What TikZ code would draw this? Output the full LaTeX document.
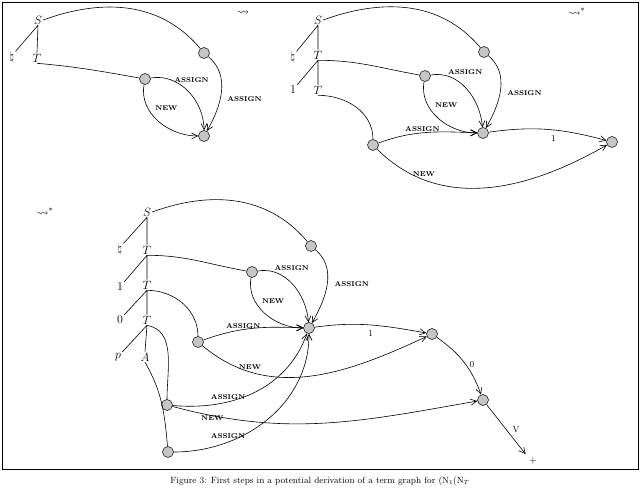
\documentclass[tikz,border=0pt]{standalone}
\usepackage{amssymb}
\usetikzlibrary{arrows.meta}
\begin{document}
\begin{tikzpicture}[x=1pt,y=-1pt,
  vtx/.style={circle,draw,fill=gray!45,inner sep=0pt,minimum size=11pt,line width=0.5pt},
  sym/.style={inner sep=1pt,font=\large},
  lab/.style={font=\fontsize{7}{8}\selectfont\bfseries,inner sep=1pt},
  e/.style={line width=0.6pt},
  a/.style={line width=0.6pt,-{Straight Barb[length=6pt,width=6pt]}},
  tl/.style={line width=0.6pt}]
\useasboundingbox (0,0) rectangle (640,489);
\draw[line width=0.8pt] (2,2) rectangle (638,469);
\node[font=\small] (cap) at (320,481) {Figure 3: First steps in a potential derivation of a term graph for $(\mathrm{N}_1(\mathrm{N}_T$};
% ---------- top left
\node[sym] (s1) at (38,20) {$S$};
\node[sym] (n1) at (12,58) {$\natural$};
\node[sym] (t1) at (37,58) {$T$};
\draw[tl] (s1.south) -- (n1.north east) (s1.south) -- (t1.north);
\node[vtx] (a1) at (204,53) {};
\node[vtx] (b1) at (145,79) {};
\node[vtx] (r1) at (204,136) {};
\node[font=\large] at (243,13) {$\leadsto$};
\draw[e] (s1.east) to[out=20,in=130] (a1);
\draw[e] (t1.south) to[out=-5,in=170] (b1);
\draw[a] (a1) to[out=-40,in=60] node[lab,right,pos=0.6,xshift=6pt] {ASSIGN} (r1);
\draw[a] (b1) to[out=10,in=90] node[lab,above,pos=0.6,xshift=-2pt,yshift=14pt] {ASSIGN} (r1);
\draw[a] (b1) to[out=-100,in=180] node[lab,pos=0.3,right,xshift=6pt] {NEW} (r1);
% ---------- top right
\node[sym] (s2) at (318,20) {$S$};
\node[sym] (n2) at (293,58) {$\natural$};
\node[sym] (t2) at (318,55) {$T$};
\node[sym] (o2) at (293,90) {$1$};
\node[sym] (u2) at (318,90) {$T$};
\draw[tl] (s2.south) -- (n2.north east) (s2.south) -- (t2.north) (t2.south) -- (o2.north east) (t2.south) -- (u2.north);
\node[vtx] (a2) at (484,52) {};
\node[vtx] (b2) at (425,76) {};
\node[vtx] (r2) at (483,133) {};
\node[vtx] (c2) at (373,145) {};
\node[vtx] (m2) at (612,142) {};
\node[font=\large] at (577,12) {$\leadsto^{*}$};
\draw[e] (s2.east) to[out=20,in=130] (a2);
\draw[e] (t2.south) to[out=0,in=170] (b2);
\draw[e] (u2.south) to[out=0,in=90] (c2);
\draw[a] (a2) to[out=-40,in=60] node[lab,right,pos=0.55,xshift=6pt] {ASSIGN} (r2);
\draw[a] (b2) to[out=10,in=95] node[lab,pos=0.2,above right] {ASSIGN} (r2);
\draw[a] (b2) to[out=-100,in=180] node[lab,pos=0.3,right,xshift=6pt] {NEW} (r2);
\draw[a] (c2) to[out=20,in=178] node[lab,pos=0.45,above] {ASSIGN} (r2);
\draw[a] (c2) to[out=-45,in=-150] node[lab,pos=0.17,above right,yshift=-4pt] {NEW} (m2);
\draw[a] (r2) to[out=8,in=165] node[pos=0.55,below,font=\small,yshift=-2pt] {1} (m2);
% ---------- bottom
\node[font=\large] at (45,212) {$\leadsto^{*}$};
\node[sym] (s3) at (147,212) {$S$};
\node[sym] (n3) at (120,250) {$\natural$};
\node[sym] (t3) at (147,250) {$T$};
\node[sym] (o3) at (120,287) {$1$};
\node[sym] (u3) at (147,285) {$T$};
\node[sym] (z3) at (120,320) {$0$};
\node[sym] (v3) at (147,320) {$T$};
\node[sym] (p3) at (118,357) {$p$};
\node[sym] (w3) at (145,357) {$A$};
\draw[tl] (s3.south) -- (n3.north east) (s3.south) -- (t3.north)
  (t3.south) -- (o3.north east) (t3.south) -- (u3.north)
  (u3.south) -- (z3.north east) (u3.south) -- (v3.north)
  (v3.south) -- (p3.north east) (v3.south) -- (w3.north);
\node[vtx] (a3) at (311,246) {};
\node[vtx] (b3) at (252,272) {};
\node[vtx] (r3) at (309,328) {};
\node[vtx] (c3) at (198,342) {};
\node[vtx] (m3) at (432,334) {};
\node[vtx] (d3) at (167,405) {};
\node[vtx] (k3) at (483,400) {};
\node[vtx] (f3) at (168,452) {};
\node (plus) at (533,461) {$+$};
\draw[e] (s3.east) to[out=20,in=130] (a3);
\draw[e] (t3.south) to[out=0,in=170] (b3);
\draw[e] (u3.south) to[out=0,in=90] (c3);
\draw[e] (v3.south) to[out=-10,in=90] (d3);
\draw[e] (w3.south) to[out=-60,in=95] (f3);
\draw[a] (a3) to[out=-40,in=60] node[lab,right,pos=0.5,xshift=6pt] {ASSIGN} (r3);
\draw[a] (b3) to[out=10,in=95] node[lab,pos=0.2,above right] {ASSIGN} (r3);
\draw[a] (b3) to[out=-100,in=180] node[lab,pos=0.3,right,xshift=6pt] {NEW} (r3);
\draw[a] (c3) to[out=20,in=178] node[lab,pos=0.4,above] {ASSIGN} (r3);
\draw[a] (c3) to[out=-40,in=-155] node[lab,pos=0.17,above right,yshift=-3pt] {NEW} (m3);
\draw[a] (r3) to[out=8,in=170] node[pos=0.5,below,font=\small,yshift=-2pt] {1} (m3);
\draw[a] (d3) to[out=-5,in=-110] node[lab,pos=0.35,above,xshift=-4pt] {ASSIGN} (r3);
\draw[a] (d3) to[out=-15,in=-170] node[lab,pos=0.12,below,yshift=1pt] {NEW} (k3);
\draw[a] (f3) to[out=0,in=-90] node[lab,pos=0.3,above,xshift=-6pt] {ASSIGN} (r3);
\draw[a] (m3) to[out=-35,in=110] node[pos=0.55,right,font=\small] {0} (k3);
\draw[a] (k3) -- node[pos=0.5,right,font=\small,xshift=3pt] {V} (plus.north west);
\end{tikzpicture}
\end{document}
